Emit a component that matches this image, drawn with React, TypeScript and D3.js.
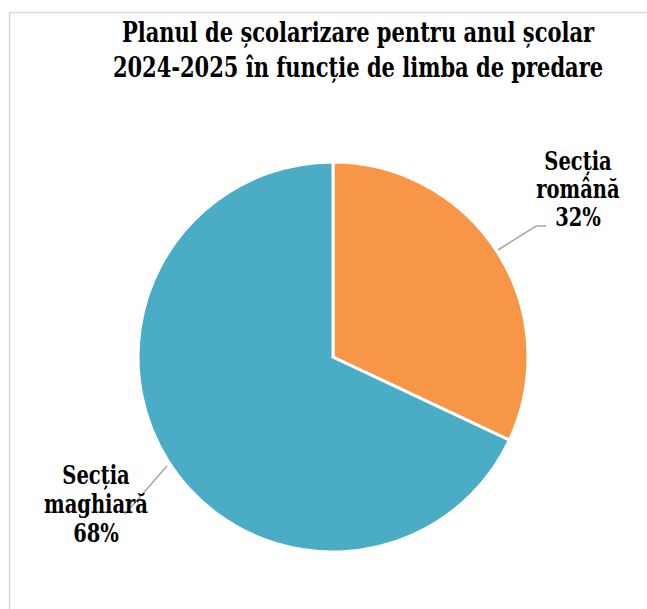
import React from "react";
import { pie, arc, PieArcDatum } from "d3";

const sections = ["Secția română", "Secția maghiară"];
const shares = [32, 68];
const labelLines = [
  ["Secția", "română", "32%"],
  ["Secția", "maghiară", "68%"],
];
const sliceColors = ["#F79646", "#4BACC6"];
const titleLines = [
  "Planul de școlarizare pentru anul școlar",
  "2024-2025 în funcție de limba de predare",
];

type Row = { name: string; value: number; idx: number };

// DejaVu Serif is wider than Times, squeeze it horizontally
const SQ = 0.75;

function SerifText({ x, y, size, children }: { x: number; y: number; size: number; children: string }) {
  return (
    <text
      transform={`translate(${x},${y}) scale(${SQ},1)`}
      fontFamily="DejaVu Serif"
      fontWeight="bold"
      fontSize={size}
      textAnchor="middle"
      fill="#000"
    >
      {children}
    </text>
  );
}

export default function App() {
  const width = 647,
    height = 609;
  const cx = 333,
    cy = 357,
    radius = 195;

  const rows: Row[] = sections.map((name, i) => ({ name, value: shares[i], idx: i }));
  const pieGen = pie<Row>()
    .value((d) => d.value)
    .sort(null);
  const arcs = pieGen(rows);
  const arcGen = arc<PieArcDatum<Row>>().innerRadius(0).outerRadius(radius);

  // label anchors (text centre x, first baseline y, line step) and leader lines
  const labelPos = [
    { x: 578, y: 170, step: 28, line: [[498, 250], [536, 226], [546, 226]] },
    { x: 96, y: 484, step: 29, line: [[167, 466], [125, 514]] },
  ];

  return (
    <svg width={width} height={height} style={{ position: "absolute", left: 0, top: 0, background: "#fff" }}>
      <rect x={9.5} y={12.5} width={width + 20} height={height + 20} fill="#fff" stroke="#D9D9D9" strokeWidth={1.5} />
      {titleLines.map((t, i) => (
        <SerifText key={i} x={358} y={42 + i * 35} size={28}>
          {t}
        </SerifText>
      ))}
      <g transform={`translate(${cx},${cy})`}>
        {arcs.map((a) => (
          <path key={a.data.name} d={arcGen(a) || ""} fill={sliceColors[a.data.idx]} stroke="#fff" strokeWidth={3} />
        ))}
      </g>
      {labelPos.map((p, i) => (
        <g key={i}>
          <polyline points={p.line.map((q) => q.join(",")).join(" ")} fill="none" stroke="#A6A6A6" strokeWidth={1.5} />
          {labelLines[i].map((t, j) => (
            <SerifText key={j} x={p.x} y={p.y + j * p.step} size={26}>
              {t}
            </SerifText>
          ))}
        </g>
      ))}
    </svg>
  );
}
